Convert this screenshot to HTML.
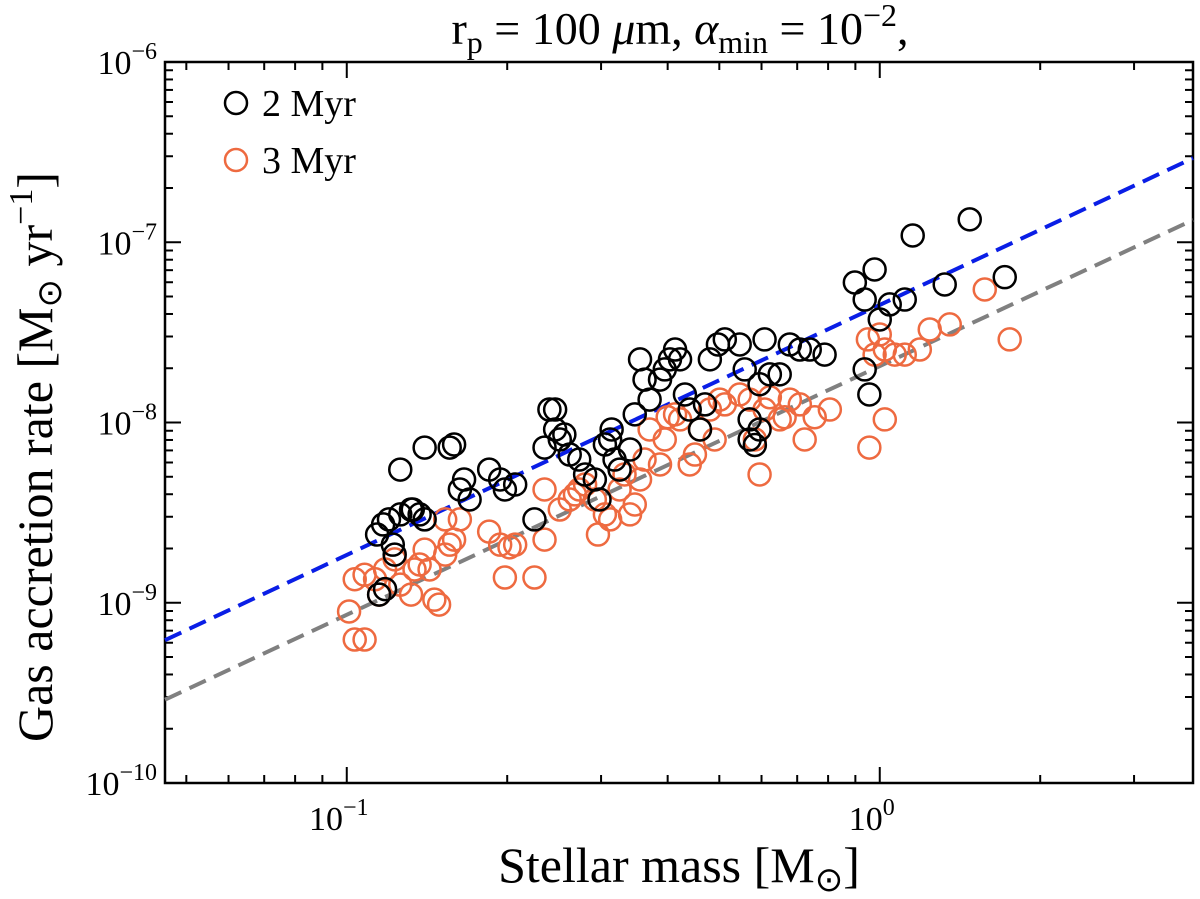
<!DOCTYPE html>
<html><head><meta charset="utf-8"><style>
html,body{margin:0;padding:0;background:#fff;}
svg{display:block;font-family:"Liberation Serif",serif;}
</style></head><body>
<svg id="chart" width="1200" height="899" viewBox="0 0 1200 899" xmlns="http://www.w3.org/2000/svg">
<text x="680" y="44" font-size="46" text-anchor="middle">r<tspan font-size="32" dy="9">p</tspan><tspan dy="-9"> = 100 </tspan><tspan font-style="italic">μ</tspan>m, <tspan font-style="italic">α</tspan><tspan font-size="32" dy="9">min</tspan><tspan dy="-9"> = 10</tspan><tspan font-size="32" dy="-18">−2</tspan><tspan dy="18">,</tspan></text>
<text x="679" y="882" font-size="50" text-anchor="middle">Stellar mass [M<tspan font-size="34" dy="9">⊙</tspan><tspan dy="-9">]</tspan></text>
<text transform="translate(52,457) rotate(-90)" font-size="50" text-anchor="middle">Gas accretion rate [M<tspan font-size="34" dy="9">⊙</tspan><tspan dy="-9"> yr</tspan><tspan font-size="34" dy="-20">−1</tspan><tspan dy="20">]</tspan></text>
<g id="axes"></g>
<g id="marks"></g>
<g>
<circle cx="236" cy="103" r="11" fill="none" stroke="#000" stroke-width="2.5"/>
<text x="262" y="116" font-size="38">2 Myr</text>
<circle cx="236" cy="160" r="11" fill="none" stroke="#ee6a40" stroke-width="2.5"/>
<text x="262" y="173" font-size="38">3 Myr</text>
</g>
</svg>
<script>
const xTicks=[0.1,1];
const xTickLabels=["10","10"];
const xTickExp=["−1","0"];
const yTicks=[1e-10,1e-9,1e-8,1e-7,1e-6];
const yTickExp=["−10","−9","−8","−7","−6"];
const xDomain=[0.0456,3.87];
const yDomain=[1e-10,1e-6];
const blueFit=[[0.0456,6.2e-10],[3.87,2.93e-7]];
const grayFit=[[0.0456,2.9e-10],[3.87,1.33e-7]];
const mass2=[0.114,0.117,0.120,0.122,0.123,0.118,0.115,0.126,0.132,0.137,0.140,0.126,0.133,0.140,0.156,0.159,0.163,0.166,0.170,0.185,0.194,0.198,0.207,0.225,0.235,0.240,0.246,0.251,0.256,0.262,0.273,0.280,0.292,0.298,0.305,0.312,0.314,0.318,0.325,0.340,0.347,0.355,0.362,0.370,0.387,0.395,0.404,0.413,0.422,0.431,0.440,0.460,0.470,0.480,0.497,0.512,0.546,0.558,0.570,0.595,0.595,0.608,0.622,0.649,0.678,0.708,0.739,0.788,0.898,0.937,0.978,0.956,1.0,1.044,1.114,1.153,1.324,1.475,1.716,0.246,0.570,0.583,0.937];
const rate2=[2.39e-9,2.72e-9,2.90e-9,2.10e-9,1.85e-9,1.19e-9,1.11e-9,3.09e-9,3.29e-9,3.09e-9,2.90e-9,5.48e-9,3.29e-9,7.26e-9,7.26e-9,7.55e-9,4.25e-9,4.83e-9,3.74e-9,5.48e-9,4.83e-9,4.25e-9,4.53e-9,2.90e-9,7.26e-9,1.18e-8,9.15e-9,8.05e-9,8.58e-9,6.64e-9,6.23e-9,5.15e-9,4.83e-9,3.74e-9,7.55e-9,8.05e-9,9.15e-9,6.23e-9,5.48e-9,7.08e-9,1.11e-8,2.24e-8,1.73e-8,1.34e-8,1.73e-8,1.97e-8,2.24e-8,2.54e-8,2.24e-8,1.43e-8,1.18e-8,9.15e-9,1.26e-8,2.24e-8,2.71e-8,2.89e-8,2.71e-8,1.97e-8,1.04e-8,9.15e-9,1.63e-8,2.89e-8,1.85e-8,1.85e-8,2.71e-8,2.54e-8,2.54e-8,2.38e-8,5.98e-8,4.81e-8,7.06e-8,1.43e-8,3.73e-8,4.52e-8,4.81e-8,1.09e-7,5.83e-8,1.34e-7,6.4e-8,1.18e-8,8.05e-9,7.5e-9,1.97e-8];
const mass3=[0.101,0.1035,0.108,0.1035,0.108,0.113,0.115,0.118,0.123,0.126,0.132,0.134,0.137,0.140,0.143,0.146,0.149,0.153,0.156,0.159,0.163,0.153,0.185,0.194,0.202,0.198,0.207,0.225,0.235,0.235,0.251,0.262,0.268,0.273,0.280,0.292,0.296,0.305,0.312,0.325,0.332,0.340,0.347,0.355,0.362,0.370,0.387,0.395,0.400,0.413,0.422,0.440,0.450,0.460,0.480,0.490,0.501,0.512,0.546,0.570,0.583,0.595,0.608,0.622,0.649,0.663,0.678,0.708,0.723,0.755,0.806,0.950,0.978,1.0,1.022,0.956,1.022,1.067,1.114,1.189,1.241,1.353,1.574,1.753];
const rate3=[8.94e-10,6.25e-10,6.25e-10,1.35e-9,1.43e-9,1.35e-9,1.11e-9,1.53e-9,1.74e-9,1.26e-9,1.11e-9,1.53e-9,1.63e-9,1.97e-9,1.53e-9,1.04e-9,9.77e-10,1.85e-9,2.10e-9,2.24e-9,2.90e-9,2.90e-9,2.48e-9,2.10e-9,2.03e-9,1.38e-9,2.10e-9,1.38e-9,2.24e-9,4.25e-9,3.29e-9,3.74e-9,3.99e-9,4.25e-9,4.53e-9,3.74e-9,2.39e-9,3.09e-9,2.90e-9,4.25e-9,5.15e-9,3.09e-9,3.51e-9,4.83e-9,6.23e-9,9.15e-9,5.85e-9,8.05e-9,1.07e-8,1.11e-8,1.04e-8,5.85e-9,6.64e-9,9.15e-9,1.18e-8,8.05e-9,1.34e-8,1.26e-8,1.43e-8,1.34e-8,8.05e-9,5.15e-9,1.18e-8,1.38e-8,1.04e-8,1.07e-8,1.34e-8,1.26e-8,8.05e-9,1.07e-8,1.18e-8,2.89e-8,2.38e-8,3.08e-8,2.54e-8,7.26e-9,1.04e-8,2.38e-8,2.38e-8,2.54e-8,3.28e-8,3.50e-8,5.47e-8,2.89e-8];

const L=165,R=1193,T=62,B=783;
const lx=v=>L+(Math.log10(v)-Math.log10(xDomain[0]))/(Math.log10(xDomain[1])-Math.log10(xDomain[0]))*(R-L);
const ly=v=>B-(Math.log10(v)-Math.log10(yDomain[0]))/(Math.log10(yDomain[1])-Math.log10(yDomain[0]))*(B-T);
const NS="http://www.w3.org/2000/svg";
const axes=document.getElementById('axes'), marks=document.getElementById('marks');
function mk(tag,attrs,parent){const e=document.createElementNS(NS,tag);for(const k in attrs)e.setAttribute(k,attrs[k]);parent.appendChild(e);return e;}

const frame=mk('rect',{x:L,y:T,width:R-L,height:B-T,fill:'none',stroke:'#000','stroke-width':2.5},axes);



for(let d=-2;d<=0;d++){for(let k=1;k<=9;k++){const v=k*Math.pow(10,d);if(v<xDomain[0]||v>xDomain[1])continue;const x=lx(v);const len=k===1?16:8;
const t1=mk('line',{x1:x,x2:x,y1:B,y2:B-len,stroke:'#000','stroke-width':2},axes);


const t2=mk('line',{x1:x,x2:x,y1:T,y2:T+len,stroke:'#000','stroke-width':2},axes);

}}
xTicks.forEach((v,i)=>{const t=mk('text',{x:lx(v)-8,y:B+47,'font-size':34,'text-anchor':'middle'},axes);


t.textContent=xTickLabels[i];const s=mk('tspan',{dy:-15,'font-size':24},t);s.textContent=xTickExp[i];});
for(let d=-10;d<-6;d++){for(let k=1;k<=9;k++){const v=k*Math.pow(10,d);const y=ly(v);const len=k===1?16:8;
const t1=mk('line',{x1:L,x2:L+len,y1:y,y2:y,stroke:'#000','stroke-width':2},axes);


const t2=mk('line',{x1:R,x2:R-len,y1:y,y2:y,stroke:'#000','stroke-width':2},axes);

}}
yTicks.forEach((v,i)=>{const t=mk('text',{x:L-8,y:ly(v)+12,'font-size':34,'text-anchor':'end'},axes);


const a=mk('tspan',{},t);a.textContent='10';const s=mk('tspan',{dy:-15,'font-size':24},t);s.textContent=yTickExp[i];});

const bl=mk('line',{x1:lx(blueFit[0][0]),y1:ly(blueFit[0][1]),x2:lx(blueFit[1][0]),y2:ly(blueFit[1][1]),stroke:'#0a1ee6','stroke-width':4,'stroke-dasharray':'18 9'},marks);


const gl=mk('line',{x1:lx(grayFit[0][0]),y1:ly(grayFit[0][1]),x2:lx(grayFit[1][0]),y2:ly(grayFit[1][1]),stroke:'#808080','stroke-width':4,'stroke-dasharray':'18 9'},marks);



mass3.forEach((m,i)=>{const c=mk('circle',{cx:lx(m),cy:ly(rate3[i]),r:11,fill:'none',stroke:'#ee6a40','stroke-width':2.5},marks);

});
mass2.forEach((m,i)=>{const c=mk('circle',{cx:lx(m),cy:ly(rate2[i]),r:11,fill:'none',stroke:'#000','stroke-width':2.5},marks);

});
</script>
</body></html>
